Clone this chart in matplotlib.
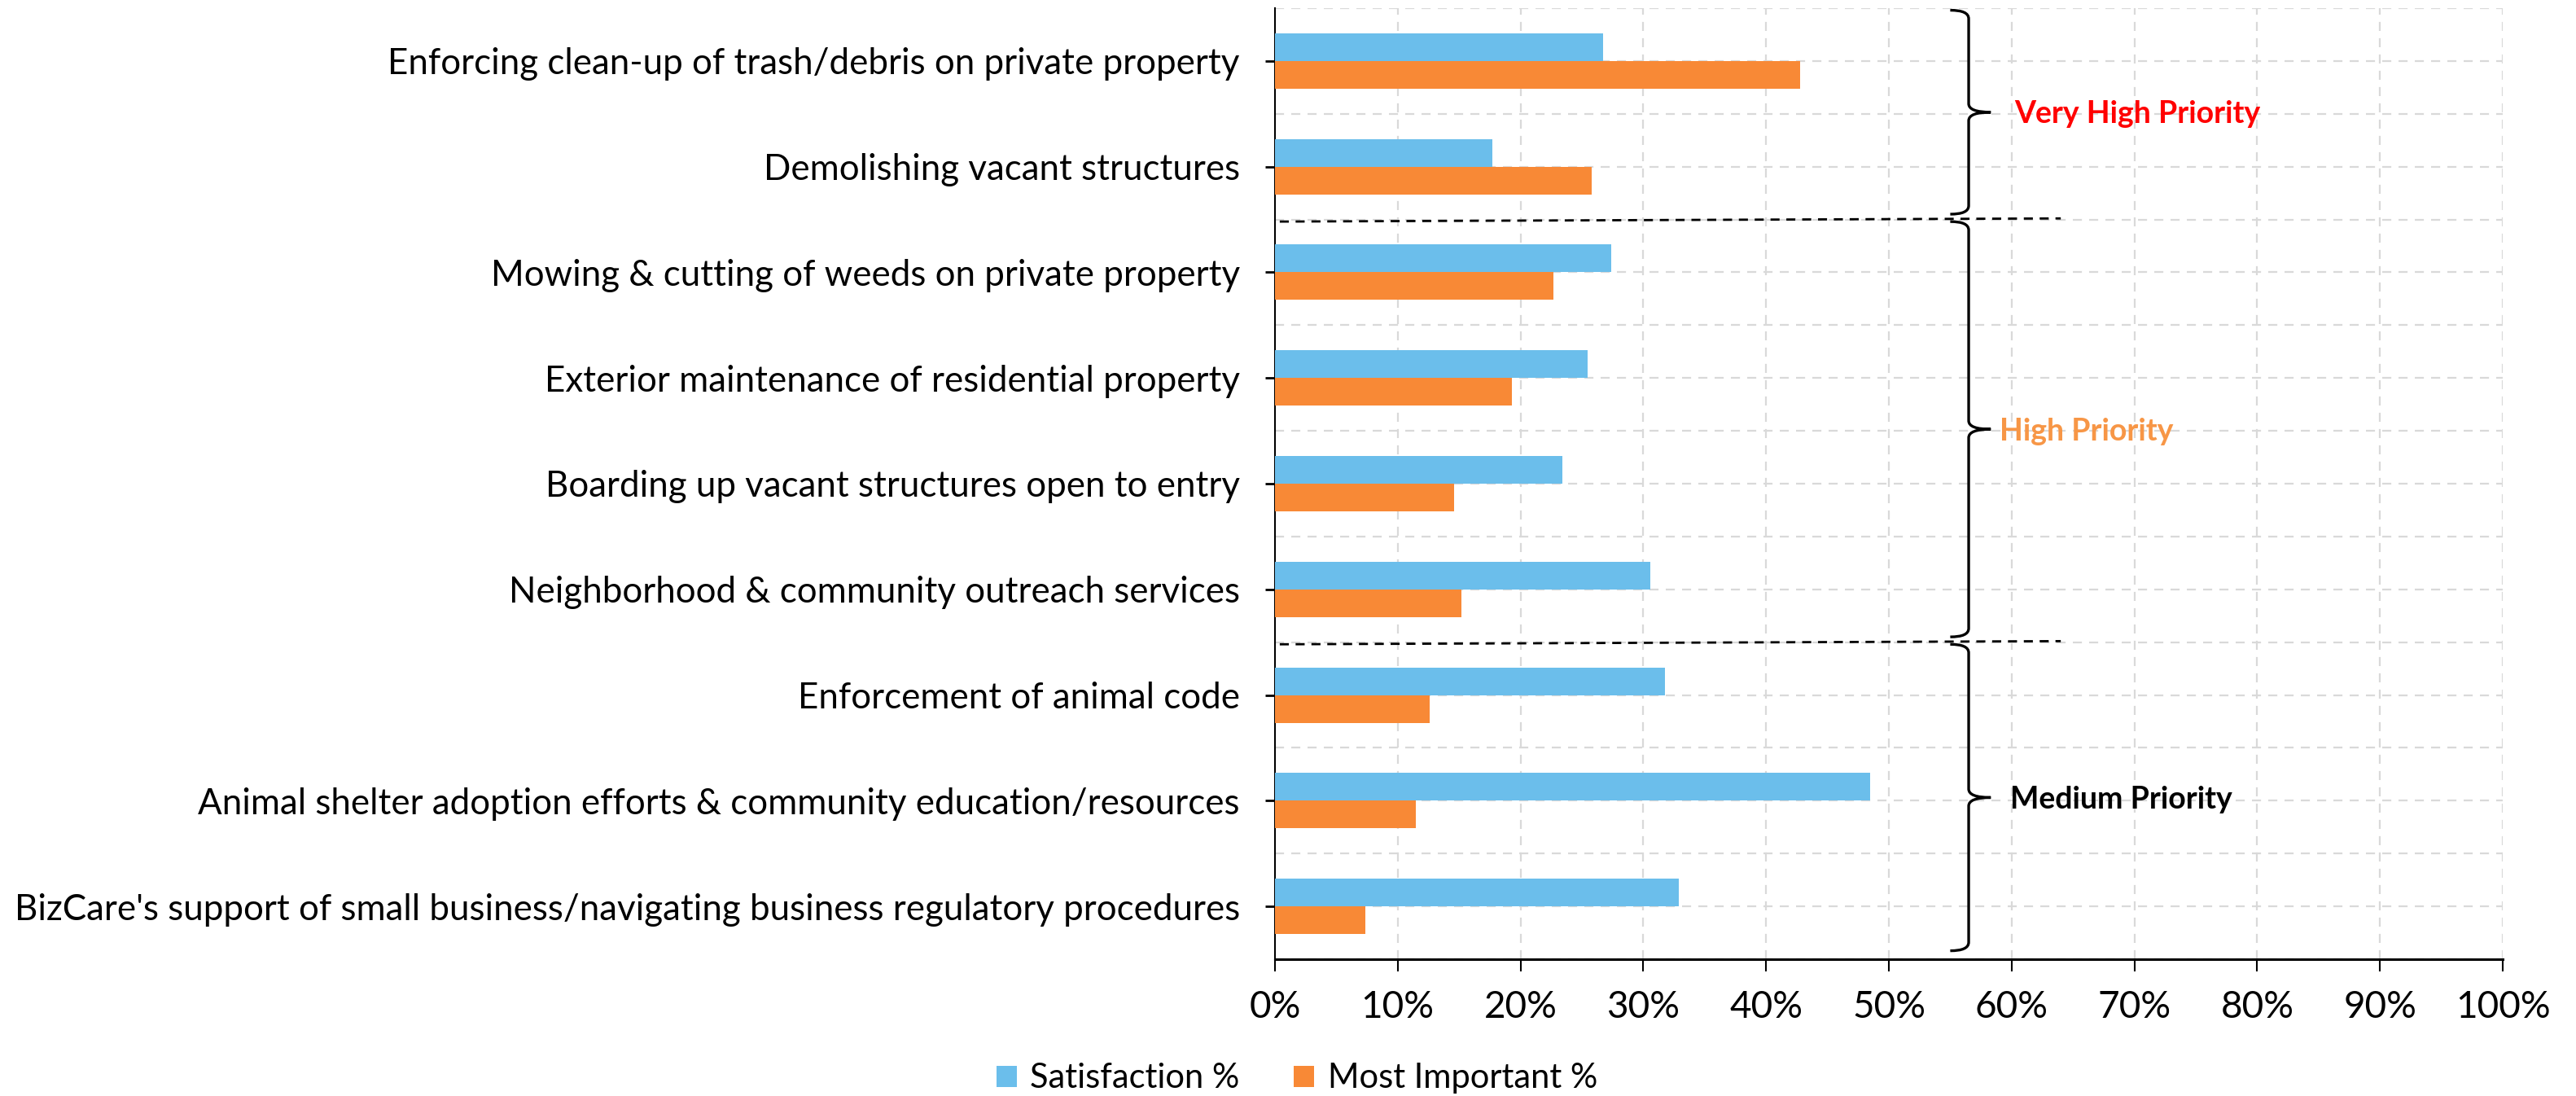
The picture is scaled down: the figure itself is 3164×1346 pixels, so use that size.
import numpy as np
import matplotlib.pyplot as plt
from matplotlib.path import Path
from matplotlib.patches import PathPatch
from matplotlib.ticker import FuncFormatter

plt.rcParams['font.family'] = ['Lato', 'DejaVu Sans']

categories = [
    "Enforcing clean-up of trash/debris on private property",
    "Demolishing vacant structures",
    "Mowing & cutting of weeds on private property",
    "Exterior maintenance of residential property",
    "Boarding up vacant structures open to entry",
    "Neighborhood & community outreach services",
    "Enforcement of animal code",
    "Animal shelter adoption efforts & community education/resources",
    "BizCare's support of small business/navigating business regulatory procedures",
]
satisfaction = [26.7, 17.7, 27.4, 25.5, 23.4, 30.6, 31.8, 48.5, 32.9]
most_important = [42.8, 25.8, 22.7, 19.3, 14.6, 15.2, 12.6, 11.5, 7.4]

# priority groups: (label, colour, first row, last row)
groups = [
    ("Very High Priority", "#FF0000", 0, 1),
    ("High Priority", "#F79646", 2, 5),
    ("Medium Priority", "#000000", 6, 8),
]

BLUE = "#6BBEEB"
ORANGE = "#F88936"
GRID = "#D9D9D9"

fig = plt.figure(figsize=(31.64, 13.46), dpi=100)
ax = fig.add_axes([0.4949, 0.1248, 0.4767, 0.8678])

y = np.arange(len(categories))
h = 0.262
ax.barh(y - h / 2, satisfaction, height=h, color=BLUE, label="Satisfaction %", zorder=3)
ax.barh(y + h / 2, most_important, height=h, color=ORANGE, label="Most Important %", zorder=3)

ax.set_xlim(0, 100)
ax.set_ylim(len(categories) - 0.5, -0.5)
ax.set_xticks(np.arange(0, 101, 10))
ax.xaxis.set_major_formatter(FuncFormatter(lambda v, p: f"{v:.0f}%"))
ax.set_yticks(y)
ax.set_yticklabels(categories)

ax.tick_params(axis='y', length=9, width=2, pad=22, labelsize=31.6)
ax.tick_params(axis='x', length=11, width=1.5, pad=16, labelsize=33)

# dashed grid
for gx in np.arange(10, 101, 10):
    ax.axvline(gx, color=GRID, lw=1.6, ls=(0, (5, 4)), zorder=1)
for gy in np.arange(-0.5, len(categories), 0.5):
    ax.axhline(gy, color=GRID, lw=1.6, ls=(0, (5, 4)), zorder=1)

for s in ['top', 'right']:
    ax.spines[s].set_visible(False)
ax.spines['left'].set_linewidth(1.5)
ax.spines['bottom'].set_linewidth(2.2)


def brace(ax, x, top, bottom, color="black"):
    mid = (top + bottom) / 2
    c = 0.08
    tip = x - 1.5
    point = x + 1.8
    verts = [(tip, top), (x, top), (x, top + c),
             (x, mid - c),
             (x, mid), (point, mid),
             (x, mid), (x, mid + c),
             (x, bottom - c),
             (x, bottom), (tip, bottom)]
    codes = [Path.MOVETO, Path.CURVE3, Path.CURVE3,
             Path.LINETO,
             Path.CURVE3, Path.CURVE3,
             Path.CURVE3, Path.CURVE3,
             Path.LINETO,
             Path.CURVE3, Path.CURVE3]
    ax.add_patch(PathPatch(Path(verts, codes), fill=False, lw=2.4,
                           edgecolor=color, clip_on=False, zorder=4))
    return mid


label_x = [60.2, 59.0, 59.9]
for (label, col, first, last), lx in zip(groups, label_x):
    mid = brace(ax, 56.5, first - 0.48, last + 0.42 if last == len(categories) - 1 else last + 0.45)
    ax.text(lx, mid + 0.02, label, color=col, fontsize=27, fontweight='bold',
            va='center', ha='left', zorder=5)

# separators between groups
for _, _, first, _ in groups[1:]:
    b = first - 0.5
    ax.plot([0.4, 64], [b + 0.02, b - 0.01], color="black", lw=2, ls=(0, (4, 3)),
            zorder=4, clip_on=False)

fig.legend(loc='center', bbox_to_anchor=(0.5035, 0.016), ncol=2, frameon=False,
           fontsize=30, handlelength=0.6, handleheight=0.6, handletextpad=0.4,
           columnspacing=1.6)

fig.savefig("out.png", dpi=100)
